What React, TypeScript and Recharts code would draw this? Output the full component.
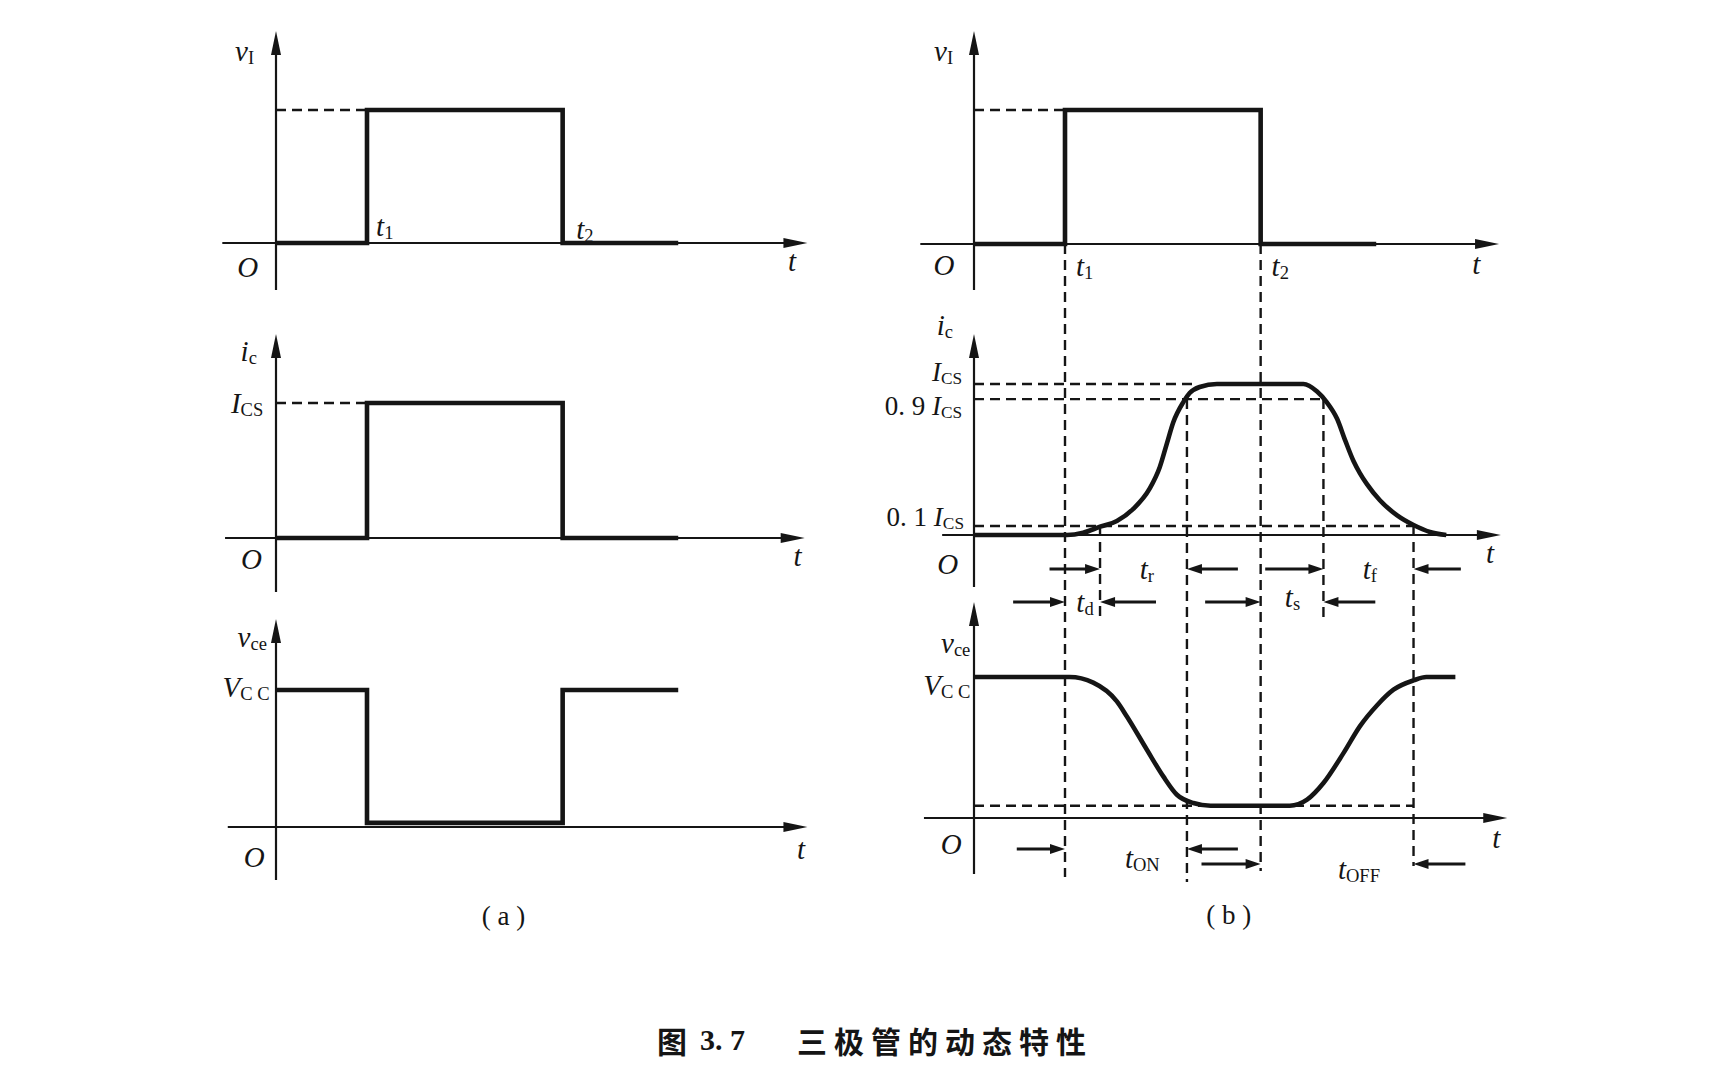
import React from "react";
import { LineChart, Line, XAxis, YAxis, ReferenceLine, ReferenceDot } from "recharts";

// time is measured in units of t1 (switch-on instant = 1)
const T1 = 1;
const T2 = 3.15;
const T_END = 4.42;
const T_10_RISE = 1.385;
const T_90_RISE = 2.34;
const T_90_FALL = 3.84;
const T_10_FALL = 4.83;
const T_ICS_FLAT = 2.4;

// levels as a fraction of I_CS / V_CC
const LEVEL_10 = 0.06;
const LEVEL_90 = 0.9;
const VCE_SAT = 0.087;

// (a) ideal switching
const pulseTime = [0, T1, T1, T2, T2, T_END];
const vinLevels = [0, 0, 1, 1, 0, 0];
const icIdealLevels = [0, 0, 1, 1, 0, 0];
const vceIdealLevels = [1, 1, 0.03, 0.03, 1, 1];

// (b) real switching
const icRealTime = [0, 1.02, 1.2, 1.385, 1.57, 1.75, 1.93, 2.04, 2.12, 2.19, 2.3, 2.37, 2.48, 2.67, 3.62, 3.77, 3.88, 3.99, 4.08, 4.17, 4.24, 4.32, 4.46, 4.65, 4.83, 5.01, 5.19];
const icRealLevels = [0, 0, 0.015, 0.055, 0.093, 0.173, 0.307, 0.447, 0.607, 0.747, 0.88, 0.94, 0.98, 1, 1, 0.95, 0.877, 0.77, 0.625, 0.49, 0.41, 0.335, 0.23, 0.13, 0.066, 0.02, 0];
const vceRealTime = [0, 1.05, 1.31, 1.57, 1.68, 1.9, 2.08, 2.23, 2.41, 2.6, 3.47, 3.66, 3.84, 4.06, 4.24, 4.43, 4.61, 4.83, 4.97, 5.29];
const vceRealLevels = [1, 1, 0.96, 0.827, 0.72, 0.484, 0.295, 0.165, 0.106, 0.087, 0.087, 0.13, 0.248, 0.46, 0.65, 0.8, 0.91, 0.976, 1, 1];

const INK = "#151515";
const SERIF = "'Liberation Serif', 'DejaVu Serif', serif";
const CHART_W = 700;
const CHART_H = 940;
const UNIT_X = 91;

type Panel = {
  id: string;
  base: number;
  unit: number;
  axisTop: number;
  axisBottom: number;
  axisFrom: number;
  axisTo: number;
};

const panelsA: Panel[] = [
  { id: "vi", base: 243, unit: 133, axisTop: 31, axisBottom: 290, axisFrom: -0.59, axisTo: 5.84 },
  { id: "ic", base: 538, unit: 135, axisTop: 334, axisBottom: 592, axisFrom: -0.56, axisTo: 5.81 },
  { id: "vce", base: 827, unit: 137, axisTop: 619, axisBottom: 880, axisFrom: -0.53, axisTo: 5.84 }
];

const panelsB: Panel[] = [
  { id: "vi", base: 244, unit: 134, axisTop: 31, axisBottom: 290, axisFrom: -0.59, axisTo: 5.77 },
  { id: "ic", base: 535, unit: 151, axisTop: 334, axisBottom: 587, axisFrom: -0.35, axisTo: 5.79 },
  { id: "vce", base: 818, unit: 141, axisTop: 602, axisBottom: 874, axisFrom: -0.55, axisTo: 5.86 }
];

const py = (p: Panel, v: number) => p.base - v * p.unit;

type Part = { s: string; it?: boolean; sub?: boolean };
const it = (s: string): Part => ({ s, it: true });
const rm = (s: string): Part => ({ s });
const sub = (s: string): Part => ({ s, sub: true });

type Tag = { t: number; y: number; parts: Part[]; anchor?: "start" | "middle" | "end"; size?: number };

type Series = { panel: string; time: number[]; levels: number[]; curve: "linear" | "monotone" };
type HGuide = { panel: string; level: number; to: number };
type VGuide = { t: number; from: number; to: number };
type Arrow = { from: number; to: number; y: number };

const arrowShape = (w: number, head: number, half: number) => (props: any) => {
  const { x1, y1, x2, y2 } = props;
  const len = Math.hypot(x2 - x1, y2 - y1) || 1;
  const ux = (x2 - x1) / len;
  const uy = (y2 - y1) / len;
  const bx = x2 - ux * head;
  const by = y2 - uy * head;
  return (
    <g>
      <line x1={x1} y1={y1} x2={bx + ux} y2={by + uy} stroke={INK} strokeWidth={w} />
      <polygon
        points={`${x2},${y2} ${bx - uy * half},${by + ux * half} ${bx + uy * half},${by - ux * half}`}
        fill={INK}
      />
    </g>
  );
};

const axisArrow = arrowShape(2.2, 24, 5);
const spanArrow = arrowShape(3, 15, 5);

const texShape = (tag: Tag) => (props: any) => {
  const size = tag.size ?? 29;
  let lowered = false;
  return (
    <text
      x={props.cx}
      y={props.cy}
      textAnchor={tag.anchor ?? "middle"}
      dominantBaseline="central"
      fontFamily={SERIF}
      fontSize={size}
      fill={INK}
    >
      {tag.parts.map((p, i) => {
        let dy = 0;
        if (p.sub && !lowered) {
          dy = size * 0.22;
          lowered = true;
        } else if (!p.sub && lowered) {
          dy = -size * 0.22;
          lowered = false;
        }
        return (
          <tspan
            key={i}
            dy={dy}
            fontStyle={p.it ? "italic" : "normal"}
            fontSize={p.sub ? size * 0.64 : size}
          >
            {p.s}
          </tspan>
        );
      })}
    </text>
  );
};

const toRows = (time: number[], levels: number[]) =>
  time.map((t, i) => ({ t, v: levels[i] }));

type ColumnProps = {
  left: number;
  originX: number;
  panels: Panel[];
  series: Series[];
  hGuides: HGuide[];
  vGuides: VGuide[];
  arrows: Arrow[];
  tags: Tag[];
};

function Column({ left, originX, panels, series, hGuides, vGuides, arrows, tags }: ColumnProps) {
  const xDomain = [-(originX - left) / UNIT_X, (left + CHART_W - originX) / UNIT_X];
  return (
    <div style={{ position: "absolute", left, top: 0 }}>
      <LineChart width={CHART_W} height={CHART_H} margin={{ top: 0, right: 0, bottom: 0, left: 0 }}>
        <XAxis type="number" dataKey="t" domain={xDomain} hide allowDataOverflow />
        <YAxis yAxisId="frame" type="number" domain={[0, CHART_H]} reversed hide allowDataOverflow />
        {panels.map((p) => (
          <YAxis
            key={p.id}
            yAxisId={p.id}
            type="number"
            domain={[(p.base - CHART_H) / p.unit, p.base / p.unit]}
            hide
            allowDataOverflow
          />
        ))}

        {panels.map((p) => (
          <ReferenceLine
            key={`ya-${p.id}`}
            yAxisId="frame"
            segment={[{ x: 0, y: p.axisBottom }, { x: 0, y: p.axisTop }]}
            shape={axisArrow}
            ifOverflow="visible"
          />
        ))}
        {panels.map((p) => (
          <ReferenceLine
            key={`xa-${p.id}`}
            yAxisId={p.id}
            segment={[{ x: p.axisFrom, y: 0 }, { x: p.axisTo, y: 0 }]}
            shape={axisArrow}
            ifOverflow="visible"
          />
        ))}

        {hGuides.map((g, i) => (
          <ReferenceLine
            key={`hg-${i}`}
            yAxisId={g.panel}
            segment={[{ x: 0, y: g.level }, { x: g.to, y: g.level }]}
            stroke={INK}
            strokeWidth={2.4}
            strokeDasharray="10 6"
            ifOverflow="visible"
          />
        ))}
        {vGuides.map((g, i) => (
          <ReferenceLine
            key={`vg-${i}`}
            yAxisId="frame"
            segment={[{ x: g.t, y: g.from }, { x: g.t, y: g.to }]}
            stroke={INK}
            strokeWidth={2.4}
            strokeDasharray="10 6"
            ifOverflow="visible"
          />
        ))}

        {series.map((s, i) => (
          <Line
            key={`s-${i}`}
            yAxisId={s.panel}
            data={toRows(s.time, s.levels)}
            dataKey="v"
            type={s.curve}
            stroke={INK}
            strokeWidth={4.6}
            strokeLinejoin="miter"
            dot={false}
            activeDot={false}
            isAnimationActive={false}
          />
        ))}

        {arrows.map((a, i) => (
          <ReferenceLine
            key={`ar-${i}`}
            yAxisId="frame"
            segment={[{ x: a.from, y: a.y }, { x: a.to, y: a.y }]}
            shape={spanArrow}
            ifOverflow="visible"
          />
        ))}

        {tags.map((tag, i) => (
          <ReferenceDot
            key={`tg-${i}`}
            yAxisId="frame"
            x={tag.t}
            y={tag.y}
            r={0}
            shape={texShape(tag)}
            ifOverflow="visible"
          />
        ))}
      </LineChart>
    </div>
  );
}

const seriesA: Series[] = [
  { panel: "vi", time: pulseTime, levels: vinLevels, curve: "linear" },
  { panel: "ic", time: pulseTime, levels: icIdealLevels, curve: "linear" },
  { panel: "vce", time: pulseTime, levels: vceIdealLevels, curve: "linear" }
];

const seriesB: Series[] = [
  { panel: "vi", time: pulseTime, levels: vinLevels, curve: "linear" },
  { panel: "ic", time: icRealTime, levels: icRealLevels, curve: "monotone" },
  { panel: "vce", time: vceRealTime, levels: vceRealLevels, curve: "monotone" }
];

const hGuidesA: HGuide[] = [
  { panel: "vi", level: 1, to: T1 },
  { panel: "ic", level: 1, to: T1 }
];

const hGuidesB: HGuide[] = [
  { panel: "vi", level: 1, to: T1 },
  { panel: "ic", level: 1, to: T_ICS_FLAT },
  { panel: "ic", level: LEVEL_90, to: T_90_FALL },
  { panel: "ic", level: LEVEL_10, to: T_10_FALL },
  { panel: "vce", level: VCE_SAT, to: T_10_FALL }
];

const icB = panelsB[1];
const vGuidesB: VGuide[] = [
  { t: T1, from: panelsB[0].base, to: 877 },
  { t: T_10_RISE, from: py(icB, LEVEL_10), to: 619 },
  { t: T_90_RISE, from: py(icB, LEVEL_90), to: 882 },
  { t: T2, from: panelsB[0].base, to: 871 },
  { t: T_90_FALL, from: py(icB, LEVEL_90), to: 619 },
  { t: T_10_FALL, from: py(icB, LEVEL_10), to: 866 }
];

const arrowsB: Arrow[] = [
  { from: 0.83, to: T_10_RISE, y: 569 },
  { from: 2.9, to: T_90_RISE, y: 569 },
  { from: 3.2, to: T_90_FALL, y: 569 },
  { from: 5.35, to: T_10_FALL, y: 569 },
  { from: 0.43, to: T1, y: 602 },
  { from: 2.0, to: T_10_RISE, y: 602 },
  { from: 2.54, to: T2, y: 602 },
  { from: 4.41, to: T_90_FALL, y: 602 },
  { from: 0.47, to: T1, y: 849 },
  { from: 2.9, to: T_90_RISE, y: 849 },
  { from: 2.5, to: T2, y: 864 },
  { from: 5.4, to: T_10_FALL, y: 864 }
];

const tagsA: Tag[] = [
  { t: -0.24, y: 51, parts: [it("v"), sub("I")], anchor: "end" },
  { t: 1.1, y: 226, parts: [it("t"), sub("1")], anchor: "start" },
  { t: 3.3, y: 229, parts: [it("t"), sub("2")], anchor: "start" },
  { t: -0.31, y: 267, parts: [it("O")] },
  { t: 5.67, y: 261, parts: [it("t")] },
  { t: -0.21, y: 351, parts: [it("i"), sub("c")], anchor: "end" },
  { t: -0.14, y: 403, parts: [it("I"), sub("CS")], anchor: "end" },
  { t: -0.27, y: 559, parts: [it("O")] },
  { t: 5.73, y: 556, parts: [it("t")] },
  { t: -0.1, y: 637, parts: [it("v"), sub("ce")], anchor: "end" },
  { t: -0.07, y: 687, parts: [it("V"), sub("C C")], anchor: "end" },
  { t: -0.24, y: 857, parts: [it("O")] },
  { t: 5.77, y: 849, parts: [it("t")] },
  { t: 2.5, y: 916, parts: [rm("( a )")], size: 27 }
];

const tagsB: Tag[] = [
  { t: -0.23, y: 51, parts: [it("v"), sub("I")], anchor: "end" },
  { t: -0.33, y: 265, parts: [it("O")] },
  { t: 1.12, y: 266, parts: [it("t"), sub("1")], anchor: "start" },
  { t: 3.27, y: 266, parts: [it("t"), sub("2")], anchor: "start" },
  { t: 5.52, y: 264, parts: [it("t")] },
  { t: -0.23, y: 325, parts: [it("i"), sub("c")], anchor: "end" },
  { t: -0.13, y: 372, parts: [it("I"), sub("CS")], anchor: "end", size: 27 },
  { t: -0.13, y: 406, parts: [rm("0. 9 "), it("I"), sub("CS")], anchor: "end", size: 27 },
  { t: -0.11, y: 517, parts: [rm("0. 1 "), it("I"), sub("CS")], anchor: "end", size: 27 },
  { t: -0.29, y: 564, parts: [it("O")] },
  { t: 5.67, y: 553, parts: [it("t")] },
  { t: 1.9, y: 569, parts: [it("t"), sub("r")] },
  { t: 4.35, y: 569, parts: [it("t"), sub("f")] },
  { t: 1.22, y: 602, parts: [it("t"), sub("d")] },
  { t: 3.5, y: 597, parts: [it("t"), sub("s")] },
  { t: -0.04, y: 643, parts: [it("v"), sub("ce")], anchor: "end" },
  { t: -0.04, y: 685, parts: [it("V"), sub("C C")], anchor: "end" },
  { t: -0.25, y: 844, parts: [it("O")] },
  { t: 5.74, y: 838, parts: [it("t")] },
  { t: 1.85, y: 858, parts: [it("t"), sub("ON")] },
  { t: 4.23, y: 869, parts: [it("t"), sub("OFF")] },
  { t: 2.8, y: 915, parts: [rm("( b )")], size: 27 }
];

export default function App() {
  return (
    <div
      style={{
        position: "absolute",
        left: 0,
        top: 0,
        width: 1718,
        height: 1074,
        background: "#fff",
        overflow: "hidden"
      }}
    >
      <Column
        left={160}
        originX={276}
        panels={panelsA}
        series={seriesA}
        hGuides={hGuidesA}
        vGuides={[]}
        arrows={[]}
        tags={tagsA}
      />
      <Column
        left={860}
        originX={974}
        panels={panelsB}
        series={seriesB}
        hGuides={hGuidesB}
        vGuides={vGuidesB}
        arrows={arrowsB}
        tags={tagsB}
      />
      <div
        style={{
          position: "absolute",
          left: 0,
          top: 1022,
          width: 1718,
          height: 36,
          fontFamily: "'Noto Sans CJK SC', sans-serif",
          fontWeight: 700,
          fontSize: 30,
          lineHeight: "36px",
          color: INK
        }}
      >
        <span style={{ position: "absolute", left: 657 }}>图</span>
        <span style={{ position: "absolute", left: 700, fontFamily: "'Liberation Serif', serif" }}>3. 7</span>
        <span style={{ position: "absolute", left: 797, letterSpacing: 7 }}>三极管的动态特性</span>
      </div>
    </div>
  );
}
